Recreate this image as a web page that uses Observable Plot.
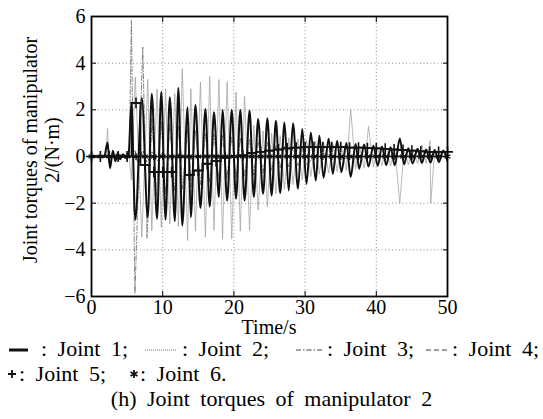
<!DOCTYPE html>
<html><head><meta charset="utf-8">
<script src="https://cdn.jsdelivr.net/npm/d3@7"></script>
<script src="https://cdn.jsdelivr.net/npm/@observablehq/plot@0.6"></script>
<style>
body{margin:0;background:#fff;font-family:"Liberation Serif","Times New Roman",Tinos,"DejaVu Serif",serif;color:#000;}
#wrap{position:relative;width:543px;height:419px;overflow:hidden;}
.lg{position:absolute;font-family:"Liberation Serif","Times New Roman",Tinos,"DejaVu Serif",serif;font-size:22px;word-spacing:5px;white-space:nowrap;line-height:1;}
.sw{position:absolute;}
#chart svg, #chart svg text{font-family:"Liberation Serif","Times New Roman",Tinos,"DejaVu Serif",serif !important;}
</style></head><body><div id="wrap"><div id="chart"></div></div>
<script>
// ---- data ----
const xTicks=[0,10,20,30,40,50];
const yTicks=[-6,-4,-2,0,2,4,6];
const seriesNames=["Joint 1","Joint 2","Joint 3","Joint 4","Joint 5","Joint 6"];

const j1T=[0,1.8,2.25,2.6,3.0,3.35,3.7,4.05,4.4,4.8,5.2,5.6,6.15,7.07,7.9,8.47,9.2,9.8,10.4,11.0,11.7,12.2,12.75,13.5,13.95,14.6,15.3,16.0,16.6,17.2,17.9,18.4,19.05,19.7,20.3,20.9,21.5,22.2,22.8,23.4,24.1,24.7,25.3,25.9,26.5,27.1,27.7,28.3,29.0,29.6,30.2,30.8,31.5,32.0,32.6,33.3,33.9,34.5,35.1,35.8,36.4,37.1,37.6,38.3,38.9,39.6,40.2,40.8,41.4,42.0,42.6,43.3,43.9,44.5,45.1,45.8,46.4,47.0,47.6,48.2,48.8,49.4,50.0];
const j1V=[0,0,0.6,-0.5,0.25,-0.2,0.15,-0.12,0.1,-0.05,0.05,2.26,-2.71,2.5,-2.6,2.69,-2.67,2.76,-2.71,2.54,-2.77,2.94,-2.96,2.11,-2.6,2.21,-2.2,2.04,-2.14,1.9,-1.74,2.0,-1.89,2.0,-1.81,2.0,-1.89,1.97,-1.74,1.61,-1.6,1.64,-1.67,1.53,-1.57,1.46,-1.46,1.42,-1.38,1.18,-1.17,1.03,-1.03,0.89,-0.91,0.76,-0.74,0.66,-0.67,0.58,-0.87,0.54,-0.53,0.51,-0.43,0.46,-0.4,0.43,-0.37,0.4,-0.38,0.77,-0.34,0.35,-0.3,0.33,-0.28,0.3,-0.26,0.28,-0.24,0.26,-0.2];

const j2T=[0,2.0,2.25,2.5,3.0,3.5,4.5,5.3,5.6,6.15,7.07,7.9,8.47,9.2,9.8,10.4,11.0,11.7,12.2,12.75,13.5,13.95,14.6,15.3,16.0,16.6,17.2,17.9,18.4,19.05,19.7,20.3,20.9,21.5,22.2,22.8,23.4,24.1,24.7,25.3,25.9,26.5,27.1,27.7,28.3,29.0,29.6,30.2,30.8,31.5,32.0,32.6,33.3,33.9,34.5,35.1,35.8,36.4,37.1,37.6,38.3,38.9,39.6,40.2,40.8,41.4,42.0,42.6,43.3,43.9,44.5,45.1,45.8,46.4,47.0,47.55,47.65,48.2,48.8,49.4,50.0];
const j2V=[0,0,1.2,-0.3,0.2,-0.1,0,0,-1.0,3.4,-3.46,3.3,-3.17,2.9,-3.03,2.9,-2.9,2.7,-3.0,3.76,-3.6,2.9,-3.2,3.19,-3.46,3.43,-3.17,3.3,-3.53,3.19,-3.53,2.76,-3.2,2.57,-3.17,1.33,-2.3,1.1,-2.17,1.0,-1.6,0.9,-1.4,0.8,-1.2,0.75,-1.0,0.7,-0.85,0.65,-0.75,0.6,-0.7,0.55,-0.65,0.5,-0.6,2.04,-0.55,0.45,-0.5,1.29,-0.45,0.4,-0.4,0.35,-0.4,0.35,-2.0,0.3,-0.35,0.3,-0.3,0.5,-0.3,0.68,-2.0,0.25,-0.22,0.2,-0.2];

const j3T=[0,5.3,5.6,6.1,7.2,7.8,8.5,9.1,9.8,10.4,11.0,11.7,12.2,12.8,13.5,14.0,14.6,15.3,16.0,16.6,17.2,17.9,18.4,19.0,19.7,20.3,20.9,21.5,22.2,22.8,23.4,24.1,24.7,25.3,25.9,26.5,27.1,27.7,28.3,29.0,29.6,30.2,32,35,40,50];
const j3V=[0,0,5.83,-5.87,4.69,-3.5,1.6,-1.7,1.5,-1.6,1.4,-1.5,1.3,-1.4,1.2,-1.3,1.1,-1.2,1.0,-1.1,0.95,-1.0,0.9,-0.95,0.85,-0.9,0.8,-0.85,0.75,-0.8,0.7,-0.7,0.6,-0.6,0.5,-0.5,0.45,-0.45,0.4,-0.4,0.35,-0.35,0.2,-0.1,0.05,0];

const j4T=[0,5.5,6.0,6.6,7.2,7.8,8.5,9.2,10.0,11.0,12.0,14.0,16.0,20.0,50];
const j4V=[0,0,0.3,-0.3,0.25,-0.25,0.2,-0.2,0.15,-0.15,0.1,-0.1,0.05,0,0];

const sampleT=[0,1.25,2.5,3.75,5,6.25,7.5,8.75,10,11.25,12.5,13.75,15,16.25,17.5,18.75,20,21.25,22.5,23.75,25,26.25,27.5,28.75,30,31.25,32.5,33.75,35,36.25,37.5,38.75,40,41.25,42.5,43.75,45,46.25,47.5,48.75,50];
const j5V=[0,0,0,0,0,2.3,-0.36,-0.67,-0.67,-0.67,0,-0.79,-0.6,-0.31,-0.2,-0.05,0,0.05,0.15,0.2,0.25,0.3,0.35,0.38,0.4,0.4,0.4,0.4,0.4,0.38,0.38,0.36,0.35,0.33,0.3,0.28,0.25,0.22,0.2,0.2,0.2];
const j6V=[0,0,0,0,0,0,0,0,0,0,0,0,0,0,0,0,0,0,0,0,0,0,0,0,0,0,0,0,0,0,0,0,0,0,0,0,0,0,0,0,0];

const rows=(t,v)=>t.map((x,i)=>({t:x,v:v[i]}));
const FONT='"Liberation Serif","Times New Roman",Tinos,"DejaVu Serif",serif';

const W=543,H=340;
const chart=Plot.plot({
  width:W,height:H,marginLeft:91,marginRight:96,marginTop:16,marginBottom:44,
  style:{fontFamily:FONT,fontSize:"20px",background:"white",color:"black",overflow:"visible"},
  x:{domain:[0,50],ticks:xTicks},
  y:{domain:[-6,6],ticks:yTicks},
  marks:[
    Plot.gridX(xTicks.slice(1,-1),{stroke:"#8c8c8c",strokeOpacity:1,strokeWidth:1,strokeDasharray:"1,2.5"}),
    Plot.gridY(yTicks.slice(1,-1),{stroke:"#8c8c8c",strokeOpacity:1,strokeWidth:1,strokeDasharray:"1,2.5"}),
    Plot.line(rows(j4T,j4V),{x:"t",y:"v",curve:"monotone-x",stroke:"#333",strokeWidth:1,strokeDasharray:"4,3",clip:true}),
    Plot.line(rows(j3T,j3V),{x:"t",y:"v",curve:"linear",stroke:"#777",strokeWidth:0.9,strokeDasharray:"5,2,1,2",clip:true}),
    Plot.line(rows(j2T,j2V),{x:"t",y:"v",curve:"linear",stroke:"#9a9a9a",strokeWidth:0.8,strokeDasharray:"1,1",clip:true}),
    Plot.line(rows(j1T,j1V),{x:"t",y:"v",curve:"monotone-x",stroke:"#111",strokeWidth:2,clip:true}),
    Plot.line(rows(sampleT,j6V),{x:"t",y:"v",stroke:"#111",strokeWidth:1.4,clip:true}),
    Plot.dot(rows(sampleT,j6V),{x:"t",y:"v",symbol:"asterisk",r:3.2,stroke:"#111",strokeWidth:1.3}),
    Plot.line(rows(sampleT,j5V),{x:"t",y:"v",curve:"step",stroke:"#111",strokeWidth:1.8,clip:true}),
    Plot.dot(rows(sampleT,j5V),{x:"t",y:"v",symbol:"plus",r:3.6,stroke:"#111",strokeWidth:1.6}),
    Plot.frame({stroke:"black",strokeWidth:1.8}),
    Plot.axisX({anchor:"bottom",ticks:xTicks,tickSize:-5,tickFormat:()=>"",label:null}),
    Plot.axisX({anchor:"top",ticks:xTicks,tickSize:-5,tickFormat:()=>"",label:null}),
    Plot.axisY({anchor:"left",ticks:yTicks,tickSize:-5,tickFormat:()=>"",label:null}),
    Plot.axisY({anchor:"right",ticks:yTicks,tickSize:-5,tickFormat:()=>"",label:null}),
    Plot.axisX({anchor:"bottom",ticks:xTicks,tickSize:0,tickPadding:3,label:null,fontSize:20}),
    Plot.axisY({anchor:"left",ticks:yTicks,tickSize:0,tickPadding:6,label:null,fontSize:20})
  ]
});
document.getElementById("chart").appendChild(chart);
const svg=d3.select(chart);
svg.append("text").attr("x",269).attr("y",334).attr("text-anchor","middle").attr("font-size",20).attr("fill","black").text("Time/s");
svg.append("text").attr("transform","translate(37,150) rotate(-90)").attr("text-anchor","middle").attr("font-size",20).attr("fill","black").text("Joint torques of manipulator");
svg.append("text").attr("transform","translate(59,150) rotate(-90)").attr("text-anchor","middle").attr("font-size",20).attr("fill","black").text("2/(N·m)");
svg.selectAll("text").style("font-family",FONT);

// ---- legend & caption (HTML below the SVG) ----
const wrap=document.getElementById("wrap");
function sw(x1,x2,y,dash,width,color){
  const s=document.createElementNS("http://www.w3.org/2000/svg","svg");
  s.setAttribute("class","sw");s.setAttribute("width",x2-x1+2);s.setAttribute("height",8);
  s.style.left=(x1-1)+"px";s.style.top=(y-4)+"px";
  const l=document.createElementNS("http://www.w3.org/2000/svg","line");
  l.setAttribute("x1",1);l.setAttribute("x2",x2-x1+1);l.setAttribute("y1",4);l.setAttribute("y2",4);
  l.setAttribute("stroke",color);l.setAttribute("stroke-width",width);if(dash)l.setAttribute("stroke-dasharray",dash);
  s.appendChild(l);wrap.appendChild(s);
}
function sym(cx,cy,type){
  const s=document.createElementNS("http://www.w3.org/2000/svg","svg");
  s.setAttribute("class","sw");s.setAttribute("width",12);s.setAttribute("height",12);
  s.style.left=(cx-6)+"px";s.style.top=(cy-6)+"px";
  const p=document.createElementNS("http://www.w3.org/2000/svg","path");
  p.setAttribute("d",type==="plus"?"M6,2V10M2,6H10":"M6,2V10M2.5,4L9.5,8M2.5,8L9.5,4");
  p.setAttribute("stroke","#111");p.setAttribute("stroke-width",1.8);p.setAttribute("fill","none");
  s.appendChild(p);wrap.appendChild(s);
}
function txt(x,top,t,size,center){
  const d=document.createElement("div");d.className="lg";d.textContent=t;
  d.style.top=top+"px";if(size)d.style.fontSize=size+"px";
  if(center){d.style.left="0";d.style.width="543px";d.style.textAlign="center";}else d.style.left=x+"px";
  wrap.appendChild(d);
}
sw(9,28,350,null,3,"#111");          txt(41,338,": "+seriesNames[0]+";");
sw(145,177,350,"1,1",1,"#777");       txt(182,338,": "+seriesNames[1]+";");
sw(296,324,350,"5,2,1.5,2",1,"#444"); txt(327,338,": "+seriesNames[2]+";");
sw(426,450,350,"5,3",1,"#444");       txt(452,338,": "+seriesNames[3]+";");
sym(12,374,"plus");                   txt(19,363,": "+seriesNames[4]+";");
sym(134,374,"asterisk");              txt(140,363,": "+seriesNames[5]+".");
txt(0,388,"(h) Joint torques of manipulator 2",22,true);
</script></body></html>
